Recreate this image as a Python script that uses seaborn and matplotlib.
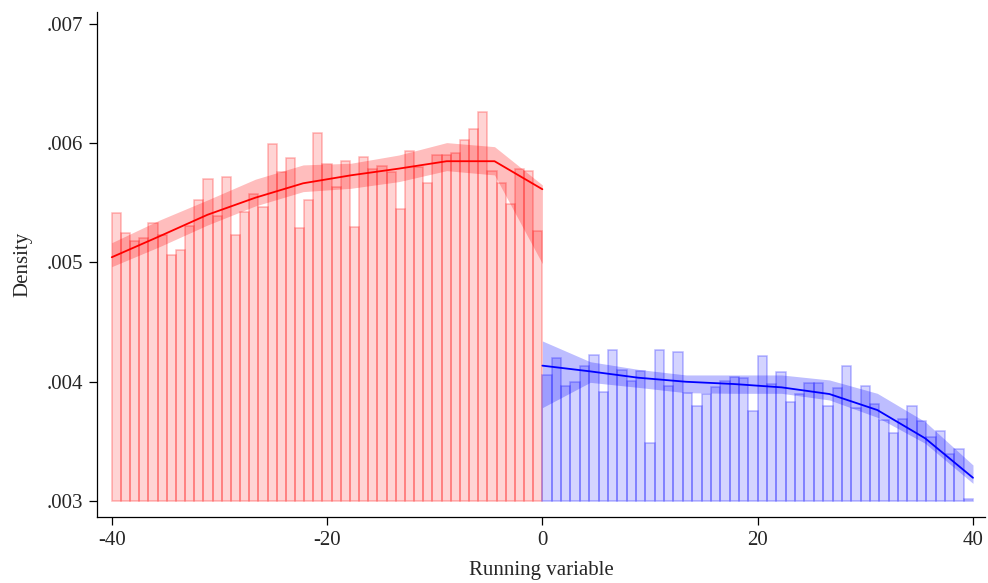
import matplotlib
matplotlib.use("Agg")
import matplotlib.pyplot as plt
import numpy as np
import pandas as pd
import seaborn as sns
from matplotlib.ticker import FuncFormatter

# histogram heights (density), left of cutoff: 47 bins on [-40, 0]
left_hist = [0.005418, 0.005250, 0.005180, 0.005203, 0.005334, 0.005231, 0.005063, 0.005108,
             0.005309, 0.005521, 0.005703, 0.005393, 0.005714, 0.005228, 0.005426, 0.005577,
             0.005463, 0.005991, 0.005762, 0.005874, 0.005287, 0.005524, 0.006083, 0.005823,
             0.005636, 0.005849, 0.005300, 0.005887, 0.005780, 0.005807, 0.005756, 0.005446,
             0.005938, 0.005800, 0.005664, 0.005901, 0.005901, 0.005921, 0.006025, 0.006122,
             0.006259, 0.005765, 0.005664, 0.005488, 0.005782, 0.005765, 0.005267]
# right of cutoff: 46 bins on [0, 40]
right_hist = [0.004057, 0.004197, 0.003967, 0.003998, 0.004129, 0.004227, 0.003917, 0.004263,
              0.004096, 0.004009, 0.004088, 0.003486, 0.004263, 0.003962, 0.004249, 0.003903,
              0.003799, 0.003895, 0.003953, 0.004004, 0.004037, 0.004029, 0.003752, 0.004218,
              0.003978, 0.004079, 0.003827, 0.003895, 0.003992, 0.003992, 0.003794, 0.003950,
              0.004135, 0.003777, 0.003967, 0.003811, 0.003682, 0.003568, 0.003685, 0.003799,
              0.003668, 0.003534, 0.003590, 0.003391, 0.003439, 0.003017]

# local polynomial density fit with confidence bands (10 evaluation points per side)
left_fit = [0.005044, 0.005220, 0.005400, 0.005543, 0.005664, 0.005731, 0.005787, 0.005849, 0.005849, 0.005614]
left_lo = [0.004965, 0.005133, 0.005314, 0.005474, 0.005594, 0.005622, 0.005678, 0.005770, 0.005734, 0.004990]
left_hi = [0.005166, 0.005356, 0.005524, 0.005698, 0.005818, 0.005832, 0.005901, 0.006005, 0.005971, 0.005650]
right_fit = [0.004135, 0.004087, 0.004034, 0.004000, 0.003981, 0.003953, 0.003897, 0.003763, 0.003526, 0.003195]
right_lo = [0.003783, 0.003995, 0.003953, 0.003908, 0.003903, 0.003903, 0.003847, 0.003702, 0.003484, 0.003148]
right_hi = [0.004342, 0.004168, 0.004104, 0.004057, 0.004057, 0.004057, 0.004015, 0.003903, 0.003665, 0.003302]

left_edges = np.linspace(-40, 0, len(left_hist) + 1)
right_edges = np.linspace(0, 40, len(right_hist) + 1)
left_grid = np.linspace(-40, 0, len(left_fit))
right_grid = np.linspace(0, 40, len(right_fit))

fit = pd.concat([
    pd.DataFrame({'x': left_grid, 'y': left_fit, 'side': 'left'}),
    pd.DataFrame({'x': right_grid, 'y': right_fit, 'side': 'right'}),
])

sns.set_style('white')
plt.rcParams['font.family'] = ['Liberation Serif', 'DejaVu Serif']
plt.rcParams['axes.unicode_minus'] = False

fig = plt.figure(figsize=(9.88, 5.83), dpi=100)
ax = fig.add_axes([0.0982, 0.1132, 0.8988, 0.8662])

base = 0.003
ax.bar(left_edges[:-1], np.array(left_hist) - base, width=np.diff(left_edges), bottom=base,
       align='edge', facecolor=(1, 0, 0, 0.17), edgecolor=(1, 0, 0, 0.28), linewidth=1.1, zorder=1)
ax.bar(right_edges[:-1], np.array(right_hist) - base, width=np.diff(right_edges), bottom=base,
       align='edge', facecolor=(0, 0, 1, 0.17), edgecolor=(0, 0, 1, 0.28), linewidth=1.1, zorder=1)

ax.fill_between(left_grid, left_lo, left_hi, color=(1, 0, 0, 0.26), linewidth=0, zorder=2)
ax.fill_between(right_grid, right_lo, right_hi, color=(0, 0, 1, 0.26), linewidth=0, zorder=2)

sns.lineplot(data=fit, x='x', y='y', hue='side', palette={'left': 'red', 'right': 'blue'},
             linewidth=1.3, legend=False, ax=ax, zorder=3)

ax.set_xlim(-41.37, 41.12)
ax.set_ylim(0.002866, 0.0071)
ax.set_xticks([-40, -20, 0, 20, 40])
ax.set_yticks([0.003, 0.004, 0.005, 0.006, 0.007])
ax.yaxis.set_major_formatter(FuncFormatter(lambda v, p: ('%.3f' % v).lstrip('0')))
ax.tick_params(axis='both', direction='out', length=6, width=0.9, labelsize=15, color='black',
               left=True, bottom=True, pad=4)
for s in ['top', 'right']:
    ax.spines[s].set_visible(False)
for s in ['left', 'bottom']:
    ax.spines[s].set_color('black')
    ax.spines[s].set_linewidth(0.9)

ax.set_xlabel('Running variable', fontsize=15, labelpad=8)
ax.set_ylabel('Density', fontsize=15, labelpad=10)

fig.savefig('out.png', dpi=100)
